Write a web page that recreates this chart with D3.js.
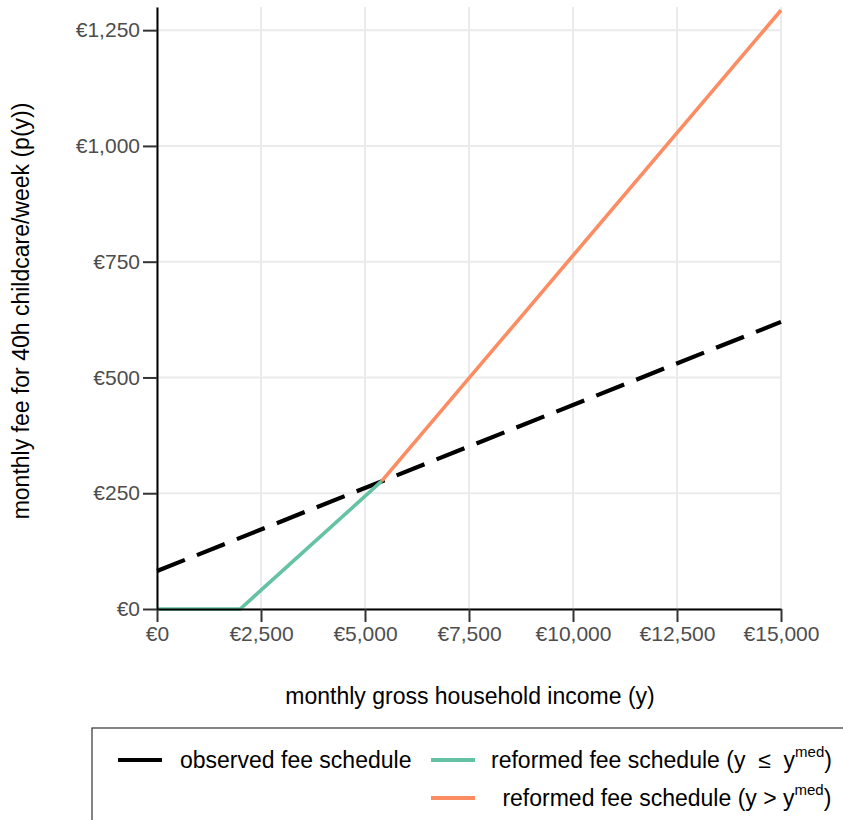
<!DOCTYPE html>
<html>
<head>
<meta charset="utf-8">
<script src="https://cdn.jsdelivr.net/npm/d3@7"></script>
<style>
  body { margin: 0; background: #fff; }
  svg { font-family: "Liberation Sans", Arial, sans-serif; display: block; }
</style>
</head>
<body>
<div id="chart"></div>
<script>
const incomeTicks = [0, 2500, 5000, 7500, 10000, 12500, 15000];
const feeTicks = [0, 250, 500, 750, 1000, 1250];

const observedIncome = [0, 15000];
const observedFee = [82, 620];
const reformLowIncome = [0, 2000, 5400];
const reformLowFee = [0, 0, 276];
const reformHighIncome = [5400, 15000];
const reformHighFee = [276, 1293];

const legendLabels = ['observed fee schedule', 'reformed fee schedule (y  \u2264  y', ' reformed fee schedule (y > y'];
const legendSup = ['', 'med', 'med'];

const WIDTH = 843;
const HEIGHT = 820;
const PLOT_LEFT = 157;
const PLOT_RIGHT = 781;
const PLOT_TOP = 7;
const PLOT_BOTTOM = 609;

const BLACK = '#000';
const GREEN = '#66c2a5';
const ORANGE = '#fc8d62';
const GRID = '#ebebeb';

const svg = d3.select('#chart').append('svg')
    .attr('viewBox', [0, 0, WIDTH, HEIGHT])
    .attr('width', WIDTH)
    .attr('height', HEIGHT);

const x = d3.scaleLinear()
    .domain([0, 15000])
    .range([PLOT_LEFT, PLOT_RIGHT]);

const y = d3.scaleLinear()
    .domain([0, 1300])
    .range([PLOT_BOTTOM, PLOT_TOP]);

const euro = d => '\u20ac' + d3.format(',')(d);

// grid
svg.append('g')
    .selectAll('line')
    .data(feeTicks)
    .join('line')
    .attr('x1', PLOT_LEFT)
    .attr('x2', PLOT_RIGHT)
    .attr('y1', d => y(d))
    .attr('y2', d => y(d))
    .attr('stroke', GRID)
    .attr('stroke-width', 2);

svg.append('g')
    .selectAll('line')
    .data(incomeTicks)
    .join('line')
    .attr('x1', d => x(d))
    .attr('x2', d => x(d))
    .attr('y1', PLOT_TOP)
    .attr('y2', PLOT_BOTTOM)
    .attr('stroke', GRID)
    .attr('stroke-width', 2);

// lines
const line = d3.line()
    .x(d => x(d[0]))
    .y(d => y(d[1]));

svg.append('path')
    .datum(d3.zip(observedIncome, observedFee))
    .attr('d', line)
    .attr('fill', 'none')
    .attr('stroke', BLACK)
    .attr('stroke-width', 4.2)
    .attr('stroke-dasharray', '30,13');

svg.append('path')
    .datum(d3.zip(reformLowIncome, reformLowFee))
    .attr('d', line)
    .attr('fill', 'none')
    .attr('stroke', GREEN)
    .attr('stroke-width', 3.6);

svg.append('path')
    .datum(d3.zip(reformHighIncome, reformHighFee))
    .attr('d', line)
    .attr('fill', 'none')
    .attr('stroke', ORANGE)
    .attr('stroke-width', 3.6);

// axes
const xAxis = svg.append('g')
    .attr('transform', `translate(0,${PLOT_BOTTOM})`)
    .call(d3.axisBottom(x).tickValues(incomeTicks).tickFormat(euro).tickSize(13).tickPadding(4).tickSizeOuter(0));

const yAxis = svg.append('g')
    .attr('transform', `translate(${PLOT_LEFT},0)`)
    .call(d3.axisLeft(y).tickValues(feeTicks).tickFormat(euro).tickSize(14).tickPadding(3).tickSizeOuter(0));

[xAxis, yAxis].forEach(axis => {
    axis.select('.domain').attr('stroke', BLACK).attr('stroke-width', 2);
    axis.selectAll('.tick line').attr('stroke', '#333').attr('stroke-width', 2);
    axis.selectAll('.tick text')
        .attr('fill', '#4d4d4d')
        .style('font-size', '21px')
        .style('font-family', '"Liberation Sans", Arial, sans-serif');
});

svg.append('text')
    .attr('x', (PLOT_LEFT + PLOT_RIGHT) / 2 + 1)
    .attr('y', 704)
    .attr('text-anchor', 'middle')
    .style('font-size', '23px')
    .text('monthly gross household income (y)');

svg.append('text')
    .attr('transform', `translate(29,${(PLOT_TOP + PLOT_BOTTOM) / 2 + 3}) rotate(-90)`)
    .attr('text-anchor', 'middle')
    .style('font-size', '23px')
    .text('monthly fee for 40h childcare/week (p(y))');

// legend
const legend = svg.append('g');

legend.append('rect')
    .attr('x', 92)
    .attr('y', 728)
    .attr('width', 800)
    .attr('height', 200)
    .attr('fill', '#fff')
    .attr('stroke', '#333')
    .attr('stroke-width', 1.2);

const legendLayout = [
    { color: BLACK, kx: 118, tx: 180, ty: 760 },
    { color: GREEN, kx: 431, tx: 491, ty: 760 },
    { color: ORANGE, kx: 431, tx: 496, ty: 798 }
];
const legendItems = legendLayout.map((d, i) => ({ ...d, label: legendLabels[i], sup: legendSup[i] }));

legend.selectAll('.key')
    .data(legendItems)
    .join('line')
    .attr('class', 'key')
    .attr('x1', d => d.kx)
    .attr('x2', d => d.kx + 44)
    .attr('y1', d => d.ty)
    .attr('y2', d => d.ty)
    .attr('stroke', d => d.color)
    .attr('stroke-width', 4);

const labels = legend.selectAll('.label')
    .data(legendItems)
    .join('text')
    .attr('class', 'label')
    .attr('x', d => d.tx)
    .attr('y', d => d.ty + 8)
    .style('font-size', '23px')
    .style('white-space', 'pre')
    .attr('xml:space', 'preserve');

labels.append('tspan')
    .text(d => d.label);

const withSup = labels.filter(d => d.sup);

withSup.append('tspan')
    .attr('dy', -11)
    .style('font-size', '15px')
    .text(d => d.sup);

withSup.append('tspan')
    .attr('dy', 11)
    .text(')');
</script>
</body>
</html>
